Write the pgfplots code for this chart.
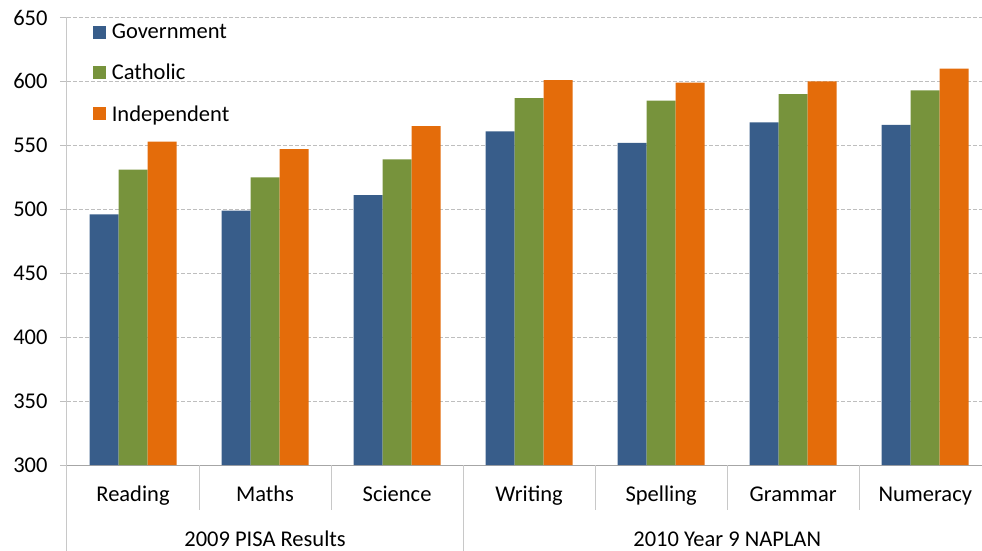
\documentclass[border=0pt]{standalone}
\usepackage{pgfplots}
\pgfplotsset{compat=1.18}
\usepackage{fontspec}
\setmainfont{Carlito}
\usetikzlibrary{calc}
\definecolor{gov}{RGB}{56,93,138}
\definecolor{cat}{RGB}{119,147,60}
\definecolor{ind}{RGB}{228,108,10}
\definecolor{gridc}{RGB}{190,190,190}
\definecolor{axc}{RGB}{200,200,200}
\begin{document}
\begin{tikzpicture}[font=\fontsize{22.5}{27}\selectfont]
\begin{axis}[
  scale only axis,
  width=915pt, height=447.5pt,
  ybar=0pt, bar width=29pt,
  xmin=-0.5, xmax=6.43,
  ymin=300, ymax=650,
  ytick={300,350,...,650},
  xtick=data,
  xticklabels={Reading,Maths,Science,Writing,Spelling,Grammar,Numeracy},
  /pgf/number format/assume math mode=true,
  yticklabel style={font=\fontsize{22.5}{27}\selectfont, xshift=-9pt},
  xticklabel style={font=\fontsize{22.5}{27}\selectfont, yshift=-18pt,
    text height=0.75em, text depth=0.22em},
  axis x line*=bottom, axis y line*=left,
  x axis line style={draw=gray!70, line width=1pt, -},
  y axis line style={draw=axc, line width=1pt, -},
  major x tick style={draw=none},
  major y tick style={draw=gridc, line width=1pt},
  tick align=outside, major tick length=7pt,
  ymajorgrids,
  grid style={draw=gridc, line width=1pt, dash pattern=on 4pt off 2pt},
  clip=false,
  legend style={draw=none, fill=none, at={(rel axis cs:0.028,0.99)}, anchor=north west,
    inner sep=0pt, row sep=20pt, cells={anchor=west},
    /tikz/every odd column/.style={column sep=4pt},
    font=\fontsize{22.5}{27}\selectfont},
  legend image code/.code={\fill[#1] (0pt,-6.5pt) rectangle (13pt,6.5pt);},
]
\addplot[fill=gov, draw=none] coordinates {(0,496) (1,499) (2,511) (3,561) (4,552) (5,568) (6,566)};
\addplot[fill=cat, draw=none] coordinates {(0,531) (1,525) (2,539) (3,587) (4,585) (5,590) (6,593)};
\addplot[fill=ind, draw=none] coordinates {(0,553) (1,547) (2,565) (3,601) (4,599) (5,600) (6,610)};
\legend{Government,Catholic,Independent}
\draw[axc, line width=1pt] (axis cs:0.5,300) -- (axis cs:0.5,264.8);
\draw[axc, line width=1pt] (axis cs:1.5,300) -- (axis cs:1.5,264.8);
\draw[axc, line width=1pt] (axis cs:3.5,300) -- (axis cs:3.5,264.8);
\draw[axc, line width=1pt] (axis cs:4.5,300) -- (axis cs:4.5,264.8);
\draw[axc, line width=1pt] (axis cs:5.5,300) -- (axis cs:5.5,264.8);
\draw[axc, line width=1pt] (axis cs:-0.5,300) -- (axis cs:-0.5,232);
\draw[axc, line width=1pt] (axis cs:2.5,300) -- (axis cs:2.5,232);
\node[inner sep=0pt] at (axis cs:1,242) {2009 PISA Results};
\node[inner sep=0pt] at (axis cs:4.5,242) {2010 Year 9 NAPLAN};
\coordinate (BL) at (rel axis cs:0,0);
\coordinate (TR) at (rel axis cs:1,1);
\end{axis}
\pgfresetboundingbox
\path[use as bounding box] ($(BL)+(-67pt,-86pt)$) rectangle ($(TR)+(0pt,17.5pt)$);
\end{tikzpicture}
\end{document}
